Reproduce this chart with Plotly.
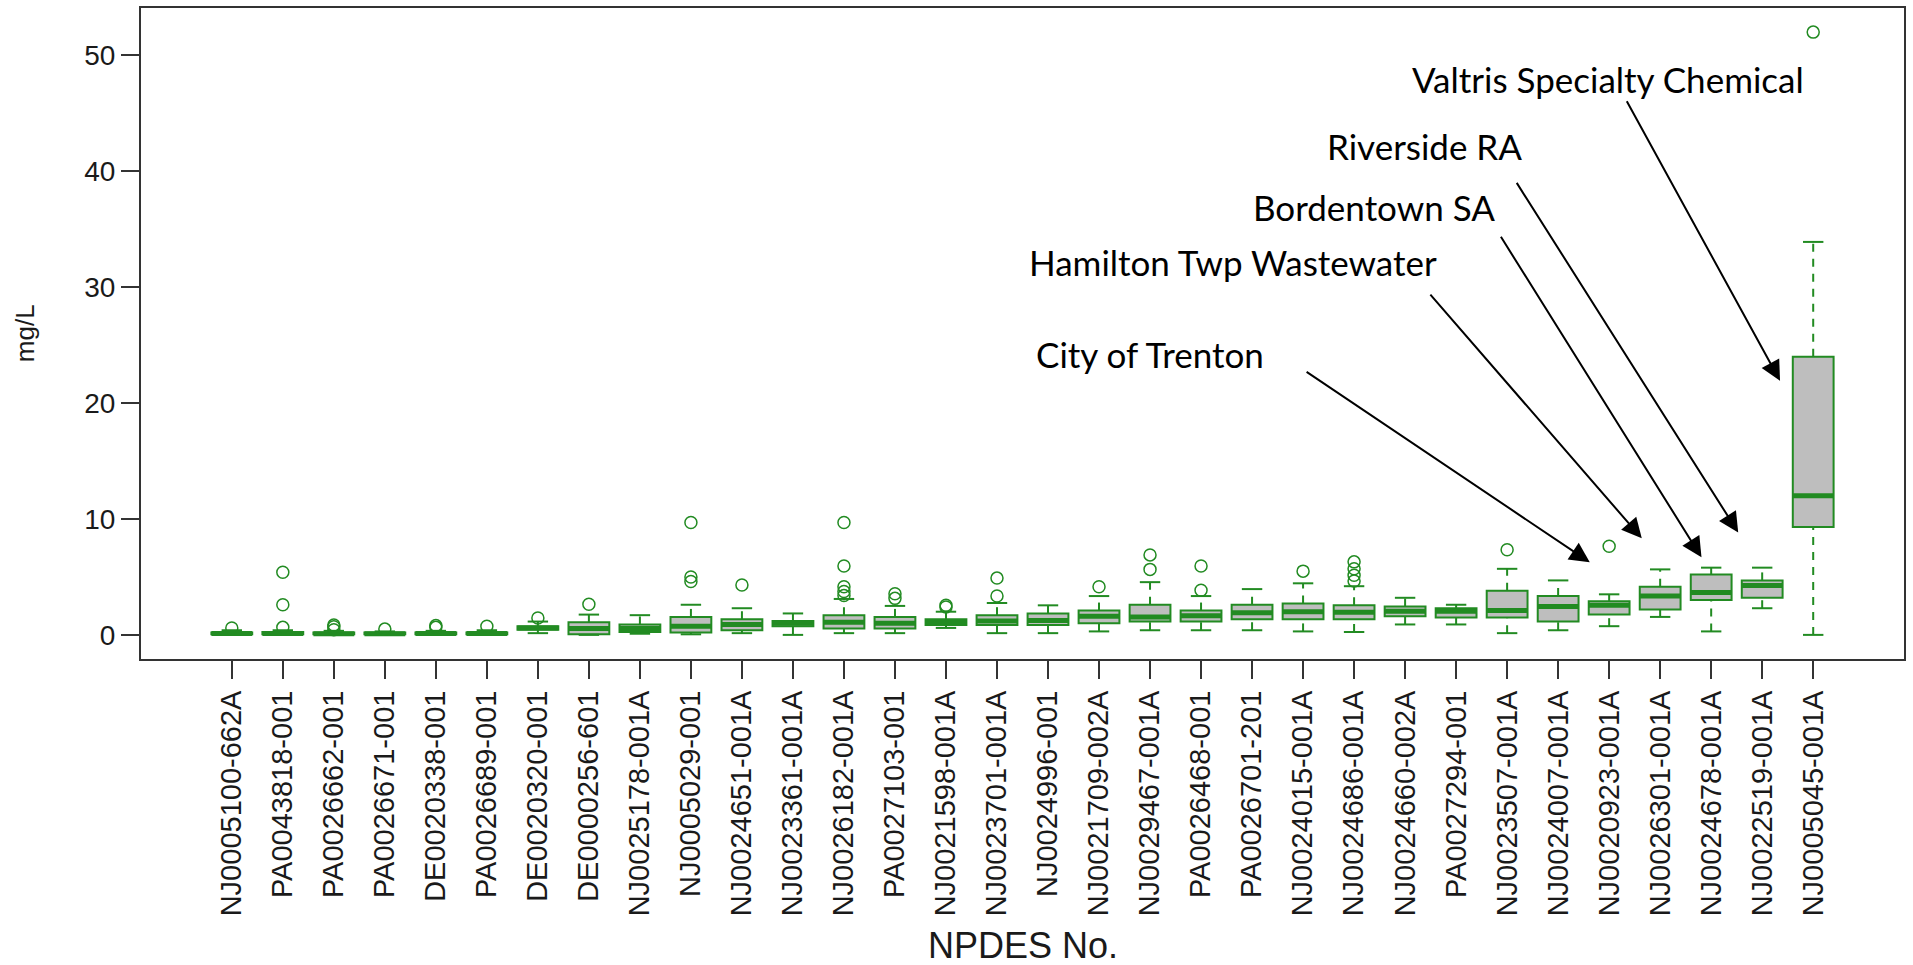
import plotly.graph_objects as go

# NPDES permit numbers along the x axis
permits = [
    "NJ0005100-662A", "PA0043818-001", "PA0026662-001", "PA0026671-001",
    "DE0020338-001", "PA0026689-001", "DE0020320-001", "DE0000256-601",
    "NJ0025178-001A", "NJ0005029-001", "NJ0024651-001A", "NJ0023361-001A",
    "NJ0026182-001A", "PA0027103-001", "NJ0021598-001A", "NJ0023701-001A",
    "NJ0024996-001", "NJ0021709-002A", "NJ0029467-001A", "PA0026468-001",
    "PA0026701-201", "NJ0024015-001A", "NJ0024686-001A", "NJ0024660-002A",
    "PA0027294-001", "NJ0023507-001A", "NJ0024007-001A", "NJ0020923-001A",
    "NJ0026301-001A", "NJ0024678-001A", "NJ0022519-001A", "NJ0005045-001A",
]

# Box statistics (mg/L)
whisker_low = [0.0, 0.0, 0.0, 0.0, 0.0, 0.0, 0.15, 0.0, 0.1, 0.05, 0.15, 0.0,
               0.15, 0.15, 0.6, 0.15, 0.15, 0.3, 0.4, 0.4, 0.4, 0.3, 0.25, 0.9,
               0.9, 0.15, 0.4, 0.75, 1.55, 0.3, 2.3, 0.0]
q1 = [0.05, 0.05, 0.05, 0.05, 0.05, 0.05, 0.45, 0.05, 0.25, 0.2, 0.4, 0.75,
      0.55, 0.55, 0.85, 0.85, 0.85, 1.0, 1.15, 1.15, 1.35, 1.35, 1.35, 1.6,
      1.5, 1.5, 1.15, 1.75, 2.2, 3.0, 3.2, 9.3]
median = [0.12, 0.12, 0.1, 0.1, 0.12, 0.12, 0.6, 0.55, 0.55, 0.75, 0.9, 1.0,
          1.1, 1.0, 1.1, 1.2, 1.25, 1.6, 1.55, 1.65, 1.9, 2.0, 1.95, 2.05,
          2.05, 2.1, 2.45, 2.55, 3.35, 3.65, 4.25, 12.0]
q3 = [0.2, 0.25, 0.2, 0.2, 0.2, 0.2, 0.75, 1.1, 0.9, 1.55, 1.35, 1.2,
      1.7, 1.55, 1.35, 1.7, 1.85, 2.1, 2.6, 2.1, 2.6, 2.7, 2.55, 2.45,
      2.3, 3.8, 3.35, 2.9, 4.15, 5.2, 4.7, 24.0]
whisker_high = [0.4, 0.4, 0.35, 0.3, 0.35, 0.4, 1.15, 1.75, 1.7, 2.6, 2.3, 1.85,
                3.1, 2.5, 2.0, 2.75, 2.55, 3.35, 4.55, 3.35, 3.95, 4.45, 4.2, 3.2,
                2.6, 5.7, 4.7, 3.5, 5.65, 5.8, 5.8, 33.9]
outliers = [
    [0.6], [5.4, 2.6, 0.65], [0.85, 0.7, 0.45], [0.5], [0.8, 0.65], [0.75],
    [1.45], [2.65], [], [9.7, 5.0, 4.6], [4.3], [],
    [9.7, 5.95, 4.15, 3.75, 3.4], [3.55, 3.15], [2.55, 2.4], [4.9, 3.35],
    [], [4.15], [6.9, 5.65], [5.95, 3.85], [], [5.5], [6.3, 5.7, 5.15, 4.65],
    [], [], [7.35], [], [7.65], [], [], [], [52.0],
]

# Labelled facilities: (name, text position, arrow tail, arrow tip) in data units
callouts = [
    ("City of Trenton", (19.0, 24.25), (22.04, 22.78), (27.62, 6.26)),
    ("Hamilton Twp Wastewater", (20.62, 32.15), (24.47, 29.48), (28.64, 8.33)),
    ("Bordentown SA", (23.40, 36.95), (25.86, 34.47), (29.81, 6.69)),
    ("Riverside RA", (24.39, 42.2), (26.17, 39.12), (30.53, 8.84)),
    ("Valtris Specialty Chemical", (27.98, 47.95), (28.33, 46.17), (31.35, 21.92)),
]

GREEN = "#228B22"
BOX_FILL = "#BEBEBE"
AXIS = "#333333"
TEXT = "#1a1a1a"
AXIS_FONT = "Liberation Sans, Arial, sans-serif"
BOX_W = 0.8
STAPLE_W = 0.4

positions = list(range(1, len(permits) + 1))

fig = go.Figure()

# Box bodies (whiskers are drawn separately as dashed lines)
fig.add_trace(go.Box(
    x=positions, q1=q1, median=median, q3=q3,
    lowerfence=q1, upperfence=q3,
    width=BOX_W, fillcolor=BOX_FILL,
    line=dict(color=GREEN, width=2),
    boxpoints=False, showlegend=False, hoverinfo="skip",
))

# Dashed whiskers, solid staples, thick medians
wx, wy, sx, sy, mx, my = [], [], [], [], [], []
for p, lo, a, m, b, hi in zip(positions, whisker_low, q1, median, q3, whisker_high):
    wx += [p, p, None, p, p, None]
    wy += [lo, a, None, b, hi, None]
    for v in (lo, hi):
        sx += [p - STAPLE_W / 2, p + STAPLE_W / 2, None]
        sy += [v, v, None]
    mx += [p - BOX_W / 2, p + BOX_W / 2, None]
    my += [m, m, None]

fig.add_trace(go.Scatter(x=wx, y=wy, mode="lines", showlegend=False, hoverinfo="skip",
                         line=dict(color=GREEN, width=2, dash="8px,7px")))
fig.add_trace(go.Scatter(x=sx, y=sy, mode="lines", showlegend=False, hoverinfo="skip",
                         line=dict(color=GREEN, width=2)))
fig.add_trace(go.Scatter(x=mx, y=my, mode="lines", showlegend=False, hoverinfo="skip",
                         line=dict(color=GREEN, width=5)))

# Outlying samples
ox, oy = [], []
for p, vals in zip(positions, outliers):
    ox += [p] * len(vals)
    oy += vals
fig.add_trace(go.Scatter(
    x=ox, y=oy, mode="markers", showlegend=False,
    marker=dict(symbol="circle-open", size=12, color=GREEN, line=dict(width=1.5)),
))

annotations = []
for name, (tx, ty), (ax, ay), (hx, hy) in callouts:
    annotations.append(dict(
        x=tx, y=ty, xref="x", yref="y", text=name, showarrow=False,
        xanchor="center", yanchor="middle",
        font=dict(family="Lato, 'Open Sans', sans-serif", size=35, color="#000000"),
    ))
    annotations.append(dict(
        x=hx, y=hy, ax=ax, ay=ay, xref="x", yref="y", axref="x", ayref="y",
        text="", showarrow=True, arrowhead=2, arrowsize=2.0, arrowwidth=2,
        arrowcolor="#000000", standoff=0, startstandoff=0,
    ))

# Axis titles
annotations.append(dict(
    x=0.5, y=-0.4395, xref="paper", yref="paper", text="NPDES No.", showarrow=False,
    xanchor="center", yanchor="middle",
    font=dict(family=AXIS_FONT, size=36, color=TEXT),
))
annotations.append(dict(
    x=-0.066, y=0.5, xref="paper", yref="paper", text="mg/L", showarrow=False,
    textangle=-90, xanchor="center", yanchor="middle",
    font=dict(family=AXIS_FONT, size=26, color=TEXT),
))

fig.update_layout(
    width=1913, height=965, autosize=False,
    margin=dict(l=141, r=9, t=6, b=306),
    paper_bgcolor="white", plot_bgcolor="white",
    showlegend=False,
    annotations=annotations,
    font=dict(family=AXIS_FONT, color=TEXT),
)

fig.update_xaxes(
    range=[-0.78, 33.78], tickmode="array", tickvals=positions, ticktext=permits,
    tickangle=-90, ticks="outside", ticklen=18, tickwidth=2, tickcolor=AXIS,
    tickfont=dict(size=29, family=AXIS_FONT, color=TEXT),
    showline=True, linecolor=AXIS, linewidth=2, mirror=True,
    showgrid=False, zeroline=False,
)
fig.update_yaxes(
    range=[-2.08, 54.08], tickmode="array", tickvals=[0, 10, 20, 30, 40, 50],
    ticks="outside", ticklen=18, tickwidth=2, tickcolor=AXIS,
    tickfont=dict(size=28, family=AXIS_FONT, color=TEXT),
    showline=True, linecolor=AXIS, linewidth=2, mirror=True,
    showgrid=False, zeroline=False,
)

fig.write_html("out.html")
